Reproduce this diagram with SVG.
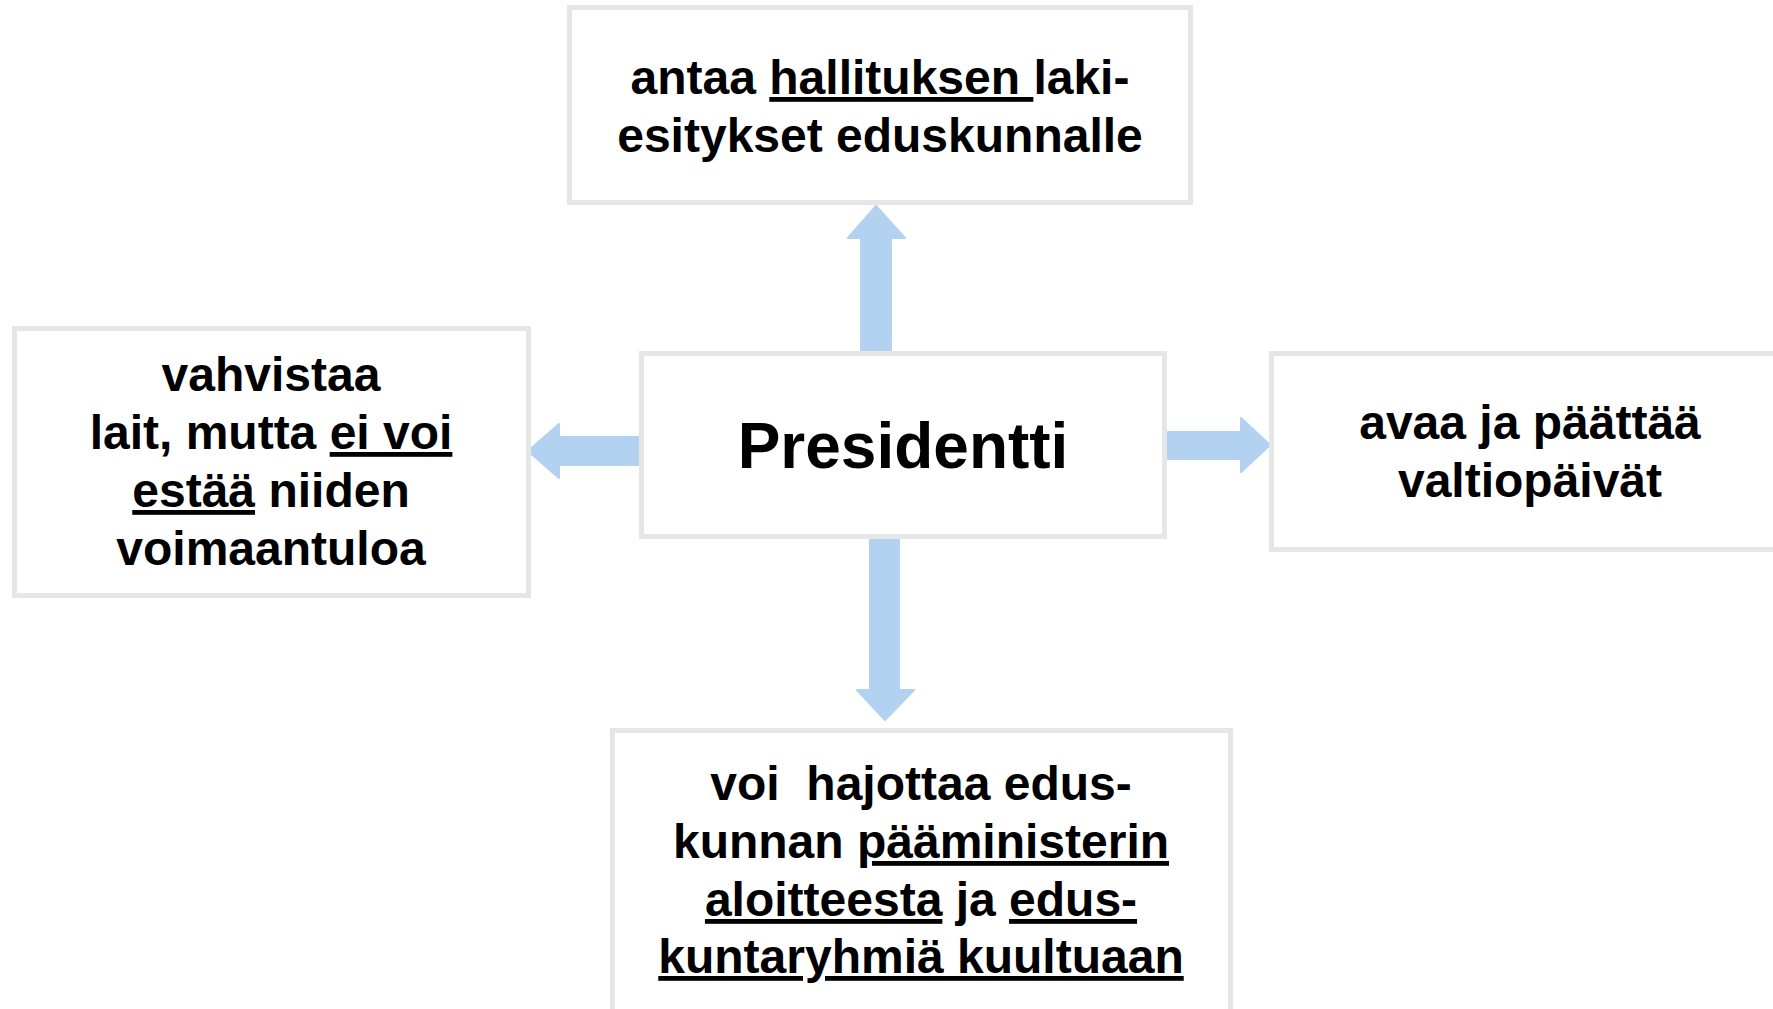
<svg xmlns="http://www.w3.org/2000/svg" width="1773" height="1009" viewBox="0 0 1773 1009">
<style>
.box{fill:#ffffff;stroke:#e6e6e6;stroke-width:5}
.arr{fill:#b3d1f0;stroke:#b3d1f0;stroke-width:2;stroke-linejoin:round}
text{font-family:"Liberation Sans",Arial,sans-serif;font-weight:bold;fill:#000000;text-anchor:middle}
.t{font-size:48px}
.big{font-size:64px}
.u{text-decoration:underline}
</style>
<rect width="1773" height="1009" fill="#ffffff"/>
<g id="connectors">
<polygon class="arr" points="861,351 861,238 848,238 876,206 905,238 891,238 891,351"/>
<polygon class="arr" points="639,437 559,437 559,424 528,451 559,478 559,465 639,465"/>
<polygon class="arr" points="1168,432 1241,432 1241,418 1270,445 1241,472 1241,459 1168,459"/>
<polygon class="arr" points="870,539 870,690 857,690 885,720 914,690 899,690 899,539"/>
</g>
<g id="node-top">
<rect class="box" x="569.5" y="7.5" width="621" height="195"/>
<text class="t" x="880" y="94">antaa <tspan class="u">hallituksen </tspan>laki-</text>
<text class="t" x="880" y="152">esitykset eduskunnalle</text>
</g>
<g id="node-left">
<rect class="box" x="14.5" y="328.5" width="514" height="267"/>
<text class="t" x="271" y="391">vahvistaa</text>
<text class="t" x="271" y="449">lait, mutta <tspan class="u">ei voi</tspan></text>
<text class="t" x="271" y="507"><tspan class="u">estää</tspan> niiden</text>
<text class="t" x="271" y="565">voimaantuloa</text>
</g>
<g id="node-center">
<rect class="box" x="641.5" y="353.5" width="523" height="183"/>
<text class="big" x="903" y="468">Presidentti</text>
</g>
<g id="node-right">
<rect class="box" x="1271.5" y="353.5" width="520" height="196"/>
<text class="t" x="1530" y="439">avaa ja päättää</text>
<text class="t" x="1530" y="497">valtiopäivät</text>
</g>
<g id="node-bottom">
<rect class="box" x="612.5" y="730.5" width="618" height="300"/>
<text class="t" x="921" y="800" xml:space="preserve">voi  hajottaa edus-</text>
<text class="t" x="921" y="858">kunnan <tspan class="u">pääministerin</tspan></text>
<text class="t" x="921" y="916"><tspan class="u">aloitteesta</tspan> ja <tspan class="u">edus-</tspan></text>
<text class="t" x="921" y="973"><tspan class="u">kuntaryhmiä kuultuaan</tspan></text>
</g>
</svg>
